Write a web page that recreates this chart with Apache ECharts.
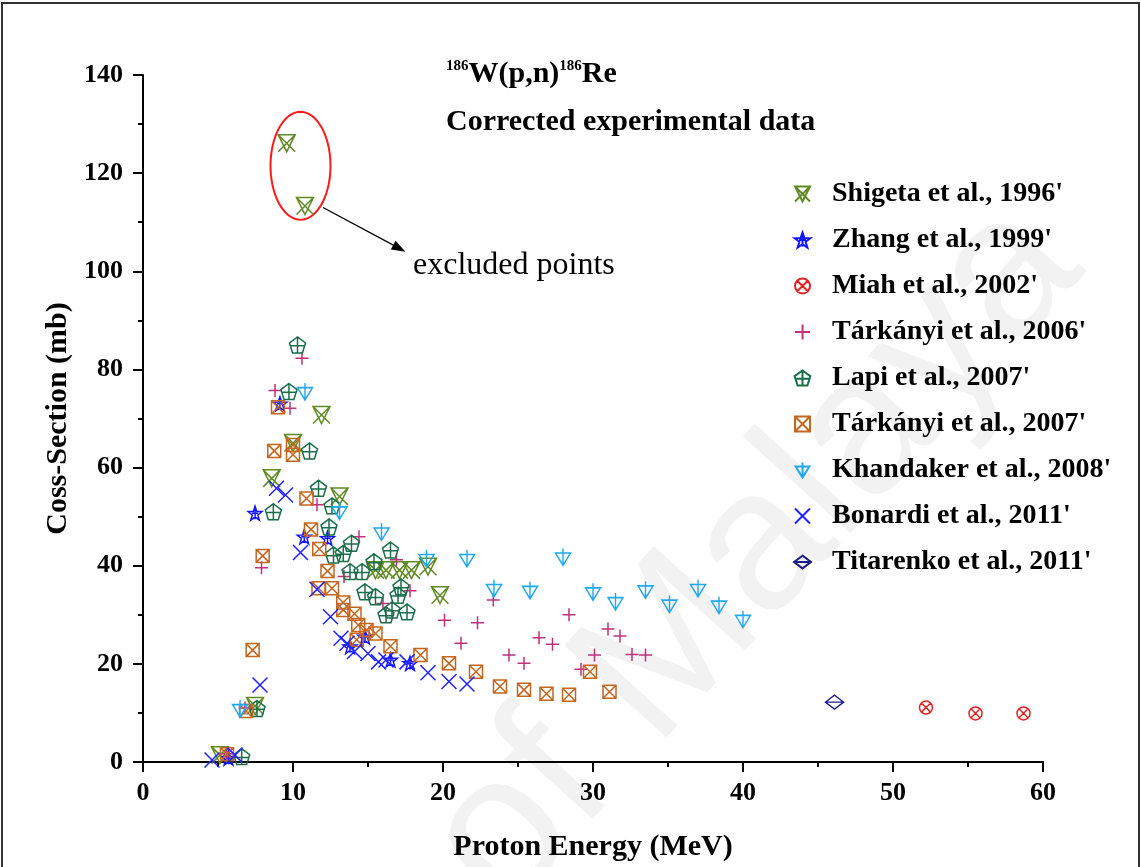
<!DOCTYPE html>
<html><head><meta charset="utf-8">
<script src="https://cdn.jsdelivr.net/npm/echarts@6/dist/echarts.min.js"></script>
<style>html,body{margin:0;padding:0;background:#fff}#c{width:1141px;height:867px}</style>
</head><body><div id="c"></div>
<script>
// ---- Data (Proton Energy MeV, Cross-section mb) ----
const seriesNames = ["Shigeta et al., 1996'", "Zhang et al., 1999'", "Miah et al., 2002'", "Tárkányi et al., 2006'", "Lapi et al., 2007'", "Tárkányi et al., 2007'", "Khandaker et al., 2008'", "Bonardi et al., 2011'", "Titarenko et al., 2011'"];
const xTicks = [0, 10, 20, 30, 40, 50, 60];
const yTicks = [0, 20, 40, 60, 80, 100, 120, 140];

const shigeta = [[5.13,1.4],[7.47,11.4],[8.58,57.8],[9.58,126.1],[10.0,65.0],[10.8,113.3],[11.9,70.7],[13.1,54.1],[15.5,39.1],[16.2,39.1],[17.1,39.1],[17.9,39.1],[19.0,39.8],[19.8,34.0]];
const zhang = [[5.7,0.8],[7.47,50.7],[9.13,73.0],[10.75,45.9],[12.3,45.6],[13.8,23.5],[14.8,25.5],[16.5,20.8],[17.8,20.1]];
const miah = [[52.2,11.1],[55.5,9.9],[58.7,9.9]];
const tarkanyi2006 = [[5.6,1.7],[6.8,11.0],[7.9,39.6],[8.8,75.7],[9.8,72.1],[10.6,82.3],[11.6,52.4],[13.4,37.8],[14.4,45.9],[16.0,32.3],[16.9,41.2],[17.8,34.9],[20.1,28.9],[21.2,24.2],[22.3,28.4],[23.35,33.0],[24.4,21.8],[25.4,20.1],[26.4,25.3],[27.3,24.0],[28.4,30.0],[29.2,18.9],[30.1,21.8],[31.0,27.1],[31.8,25.7],[32.6,21.9],[33.5,21.8]];
const lapi = [[6.58,1.1],[7.6,10.9],[8.69,51.0],[9.73,75.5],[10.3,85.0],[11.1,63.4],[11.7,55.8],[12.4,47.9],[12.6,52.2],[12.7,42.2],[13.35,42.5],[13.8,38.8],[13.9,44.6],[14.6,38.8],[14.8,34.7],[15.4,40.8],[15.5,33.7],[16.2,30.0],[16.5,43.2],[16.6,31.0],[17.0,34.0],[17.2,35.7],[17.6,30.6]];
const tarkanyi2007 = [[5.6,1.6],[6.87,10.4],[7.31,22.8],[7.98,42.0],[8.75,63.4],[9.0,72.3],[10.0,64.6],[10.0,62.6],[10.9,53.7],[11.2,47.4],[11.75,43.4],[11.7,35.4],[12.3,38.9],[12.6,35.4],[13.35,32.5],[13.35,31.0],[14.1,30.2],[14.35,27.9],[14.25,24.9],[14.9,26.9],[15.5,26.2],[16.5,23.6],[18.5,21.8],[20.4,20.1],[22.2,18.4],[23.8,15.4],[25.4,14.7],[26.9,13.9],[28.4,13.7],[29.8,18.4],[31.1,14.3]];
const khandaker = [[6.47,10.9],[10.8,75.5],[13.1,51.2],[15.9,46.9],[18.9,41.5],[21.6,41.5],[23.4,35.4],[25.8,35.0],[28.0,41.8],[30.0,34.7],[31.5,32.7],[33.5,35.1],[35.1,32.2],[37.0,35.4],[38.4,32.0],[40.0,29.1]];
const bonardi = [[4.6,0.4],[6.13,1.4],[7.8,15.7],[8.9,55.8],[9.5,54.4],[10.5,42.7],[11.6,35.2],[12.5,29.6],[13.2,25.2],[13.6,24.2],[14.1,22.5],[15.0,22.1],[15.7,20.4],[16.2,20.8],[17.6,20.4],[19.0,18.2],[20.4,16.4],[21.6,15.9]];
const titarenko = [[46.1,12.2]];

// ---- Styles ----
const FONT = "'Liberation Serif','Times New Roman',serif";
const seriesData = [shigeta, zhang, miah, tarkanyi2006, lapi, tarkanyi2007, khandaker, bonardi, titarenko];
const colors = ['#5f8a24', '#1414ff', '#e02424', '#c0307c', '#1b6e4a', '#c4661f', '#22a8ee', '#2222ff', '#1c1c8c'];
const symbols = [
  'path://M0,0L20,0L10,20ZM0,0L20,20M20,0L0,20',
  'path://M10,0L12.35,6.76L19.51,6.91L13.8,11.24L15.88,18.09L10,14L4.12,18.09L6.2,11.24L0.49,6.91L7.65,6.76ZM10,2L10,17M6,9L14,9',
  'path://M20,10A10,10,0,1,1,0,10A10,10,0,1,1,20,10ZM2.93,2.93L17.07,17.07M17.07,2.93L2.93,17.07',
  'path://M10,0L10,20M0,10L20,10',
  'path://M10,0L19.51,6.91L15.88,18.09L4.12,18.09L0.49,6.91ZM10,0L10,18.09M1.49,10L18.51,10',
  'path://M0,0L20,0L20,20L0,20ZM0,0L20,20M20,0L0,20',
  'path://M0,6L20,6L10,22ZM10,0L10,22',
  'path://M0,0L20,20M20,0L0,20',
  'path://M12,0L24,9L12,18L0,9ZM0,9L24,9'
];
const sizes = [17, 14, 13, 13, 16, 13, [15,17], 15, [18,14]];

const chart = echarts.init(document.getElementById('c'), null, {renderer: 'canvas'});

const series = seriesNames.map((n, i) => ({
  name: n, type: 'scatter', data: seriesData[i],
  symbol: symbols[i], symbolSize: sizes[i],
  itemStyle: {color: 'rgba(0,0,0,0)', borderColor: colors[i], borderWidth: 1.5, opacity: 1},
  emphasis: {disabled: true}, z: 3
}));

const axisCommon = {
  axisLine: {show: true, onZero: false, lineStyle: {color: '#000', width: 2}},
  axisTick: {show: true, inside: false, length: 10, lineStyle: {color: '#000', width: 2}},
  minorTick: {show: true, splitNumber: 2, length: 5, lineStyle: {color: '#000', width: 2}},
  splitLine: {show: false},
  axisLabel: {color: '#000', fontFamily: FONT, fontWeight: 'bold', fontSize: 26},
  nameTextStyle: {color: '#000', fontFamily: FONT, fontWeight: 'bold', fontSize: 30}
};

const option = {
  backgroundColor: '#fff',
  animation: false,
  title: [
    {left: 441, top: 54, text: '{s|186}{b|W(p,n)}{s|186}{b|Re}',
     textStyle: {rich: {
       s: {fontFamily: FONT, fontWeight: 'bold', fontSize: 15, color: '#000', verticalAlign: 'top', lineHeight: 30},
       b: {fontFamily: FONT, fontWeight: 'bold', fontSize: 30, color: '#000', lineHeight: 30}}}},
    {left: 441, top: 102, text: 'Corrected experimental data',
     textStyle: {fontFamily: FONT, fontWeight: 'bold', fontSize: 30, color: '#000'}}
  ],
  grid: {left: 143, top: 75, right: 98, bottom: 105, containLabel: false},
  xAxis: Object.assign({}, axisCommon, {
    type: 'value', min: xTicks[0], max: xTicks[xTicks.length-1], interval: 10,
    name: 'Proton Energy (MeV)', nameLocation: 'middle', nameGap: 70,
    axisLabel: Object.assign({}, axisCommon.axisLabel, {margin: 18})
  }),
  yAxis: Object.assign({}, axisCommon, {
    type: 'value', min: yTicks[0], max: yTicks[yTicks.length-1], interval: 20,
    name: 'Coss-Section (mb)', nameLocation: 'middle', nameGap: 64,
    axisLabel: Object.assign({}, axisCommon.axisLabel, {margin: 20})
  }),
  legend: {
    orient: 'vertical', left: 788, top: 175, itemGap: 18, itemWidth: 17, itemHeight: 15,
    data: seriesNames, selectedMode: false,
    textStyle: {fontFamily: FONT, fontWeight: 'bold', fontSize: 28, color: '#000', lineHeight: 28, padding: [0,0,0,16]}
  },
  series: series
};
chart.setOption(option);

// ---- Annotations positioned from data coordinates ----
const P = (x, y) => chart.convertToPixel({gridIndex: 0}, [x, y]);
const c0 = P(10.5, 121.5), c1 = P(12.5, 110.5);
const rx = c1[0] - c0[0], ry = c0[1] - c1[1];
const ell = [];
for (let k = 0; k < 72; k++) { const t = k / 72 * Math.PI * 2; ell.push([c0[0] + rx * Math.cos(t), c0[1] + ry * Math.sin(t)]); }
const a0 = P(12.0, 113.0), a1 = P(17.5, 104.0);
const ang = Math.atan2(a1[1] - a0[1], a1[0] - a0[0]);
const hl = 14, hw = 5;
const head = [a1,
  [a1[0] - hl * Math.cos(ang) + hw * Math.sin(ang), a1[1] - hl * Math.sin(ang) - hw * Math.cos(ang)],
  [a1[0] - hl * Math.cos(ang) - hw * Math.sin(ang), a1[1] - hl * Math.sin(ang) + hw * Math.cos(ang)]];
const tp = P(18.0, 101.2);

chart.setOption({
  graphic: [
    {type: 'text', x: 540, y: 945, rotation: 48 * Math.PI / 180, z: -10, silent: true,
     style: {text: 'of Malaya', fontFamily: "'Liberation Sans',Arial,sans-serif", fontSize: 200, fill: 'rgba(0,0,0,0.05)', textVerticalAlign: 'bottom'}},
    {type: 'rect', shape: {x: 2, y: 3, width: 1137, height: 900}, style: {fill: 'none', stroke: '#333', lineWidth: 2}, silent: true},
    {type: 'polygon', shape: {points: ell}, style: {fill: 'none', stroke: '#ff1a1a', lineWidth: 2}, silent: true},
    {type: 'line', shape: {x1: a0[0], y1: a0[1], x2: a1[0] - 8 * Math.cos(ang), y2: a1[1] - 8 * Math.sin(ang)}, style: {stroke: '#000', lineWidth: 1.3}, silent: true},
    {type: 'polygon', shape: {points: head}, style: {fill: '#000'}, silent: true},
    {type: 'text', x: tp[0], y: tp[1], silent: true,
     style: {text: 'excluded points', fontFamily: FONT, fontSize: 32, fill: '#000', textVerticalAlign: 'middle'}}
  ]
});
</script></body></html>
